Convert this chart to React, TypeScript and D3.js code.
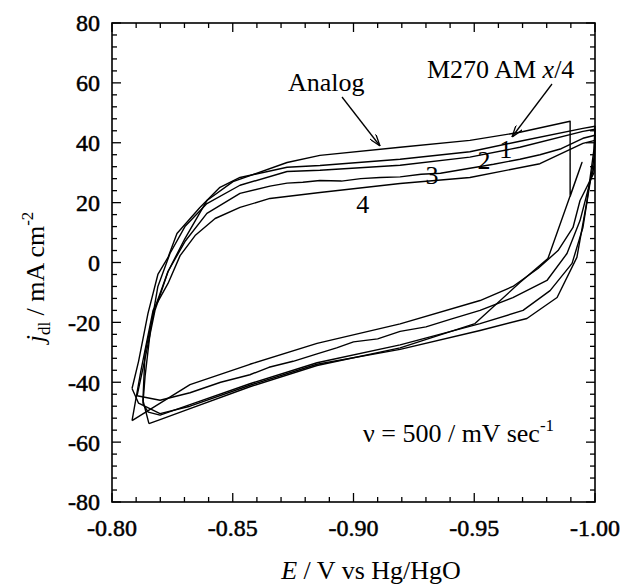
import React from "react";
import * as d3 from "d3";

// ---- Data (E in V vs Hg/HgO, j in mA cm^-2) ----
const analogE = [-0.8153, -0.8128, -0.8137, -0.8178, -0.8232, -0.8302, -0.8393, -0.8501, -0.8725, -0.8861, -0.9193, -0.9482, -0.9689, -0.9897, -0.9897, -0.9946, -0.9805, -0.9689, -0.9503, -0.9193, -0.8849, -0.8571, -0.8323, -0.8199, -0.8153];
const analogJ = [-53.8, -46.0, -30.0, -15.0, -3.0, 8.0, 20.7, 27.0, 33.4, 35.8, 38.5, 40.8, 43.5, 47.2, 22.0, 33.4, 1.3, -6.7, -20.4, -28.5, -34.4, -41.5, -48.8, -52.5, -53.8];

const loop1E = [-0.8083, -0.8110, -0.8149, -0.8190, -0.8232, -0.8269, -0.8364, -0.8447, -0.8530, -0.8725, -0.8861, -0.9193, -0.9482, -0.9689, -0.9950, -1.0000, -0.9996, -0.9967, -0.9925, -0.9843, -0.9718, -0.9524, -0.9193, -0.8849, -0.8571, -0.8323, -0.8199, -0.8110, -0.8083];
const loop1J = [-42.1, -33.0, -17.0, -4.0, 1.7, 9.7, 18.4, 25.1, 28.4, 31.8, 32.4, 34.5, 37.0, 40.5, 44.8, 45.5, 38.0, 20.7, 1.7, -11.7, -18.7, -22.7, -29.0, -34.0, -41.0, -48.0, -50.5, -47.0, -42.1];

const loop2E = [-0.8128, -0.8137, -0.8160, -0.8190, -0.8240, -0.8302, -0.8393, -0.8530, -0.8725, -0.8861, -0.9193, -0.9482, -0.9689, -0.9950, -1.0000, -0.9996, -0.9950, -0.9905, -0.9814, -0.9702, -0.9524, -0.9193, -0.8849, -0.8571, -0.8323, -0.8199, -0.8150, -0.8128];
const loop2J = [-47.2, -38.0, -22.0, -8.0, 3.0, 12.0, 19.7, 25.8, 30.4, 30.8, 32.5, 35.2, 38.5, 43.8, 44.5, 35.0, 11.7, -0.3, -9.4, -16.0, -20.4, -27.5, -33.5, -40.5, -47.5, -51.0, -50.0, -47.2];

const loop3E = [-0.8104, -0.8137, -0.8178, -0.8232, -0.8302, -0.8393, -0.8530, -0.8654, -0.8725, -0.8790, -0.8861, -0.8950, -0.9030, -0.9110, -0.9193, -0.9280, -0.9360, -0.9482, -0.9580, -0.9689, -0.9772, -0.9860, -0.9950, -1.0000, -0.9996, -0.9938, -0.9884, -0.9801, -0.9660, -0.9524, -0.9400, -0.9300, -0.9193, -0.9100, -0.9000, -0.8930, -0.8849, -0.8750, -0.8650, -0.8571, -0.8450, -0.8323, -0.8199, -0.8104];
const loop3J = [-44.5, -32.0, -16.0, -3.0, 7.0, 16.4, 23.1, 25.5, 26.5, 26.8, 27.4, 27.2, 28.0, 28.4, 28.6, 29.5, 29.8, 31.5, 32.8, 34.5, 36.0, 38.0, 41.5, 42.5, 32.0, 14.0, 3.0, -6.0, -11.7, -16.0, -19.0, -21.5, -23.0, -25.5, -26.5, -28.5, -30.5, -33.0, -35.0, -37.5, -40.0, -43.5, -46.0, -44.5];

const loop4E = [-0.8083, -0.8120, -0.8170, -0.8232, -0.8282, -0.8344, -0.8427, -0.8530, -0.8654, -0.8861, -0.9193, -0.9482, -0.9772, -0.9950, -1.0000, -0.9996, -0.9938, -0.9909, -0.9847, -0.9764, -0.9660, -0.9524, -0.9193, -0.8849, -0.8571, -0.8323, -0.8083];
const loop4J = [-52.8, -36.0, -16.0, -7.0, 2.3, 9.0, 14.7, 18.4, 21.4, 23.4, 26.4, 28.4, 33.0, 39.8, 40.8, 30.0, 20.7, 11.7, 4.0, -2.0, -8.0, -12.7, -20.5, -27.0, -34.0, -40.8, -52.8];

const xTickValues = [-0.8, -0.85, -0.9, -0.95, -1.0];
const yTickValues = [-80, -60, -40, -20, 0, 20, 40, 60, 80];

const loops = [
  { e: analogE, j: analogJ },
  { e: loop1E, j: loop1J },
  { e: loop2E, j: loop2J },
  { e: loop3E, j: loop3J },
  { e: loop4E, j: loop4J },
];

const curveLabels = [
  { text: "1", e: -0.9630, j: 35.0 },
  { text: "2", e: -0.9540, j: 31.3 },
  { text: "3", e: -0.9325, j: 26.3 },
  { text: "4", e: -0.9038, j: 16.7 },
];

export default function App() {
  const W = 624, H = 584;
  const x = d3.scaleLinear().domain([-0.8, -1.0]).range([112, 595]);
  const y = d3.scaleLinear().domain([-80, 80]).range([502, 23]);
  const line = d3.line<[number, number]>().x((d) => x(d[0])).y((d) => y(d[1]));
  const font = "'Liberation Serif', 'Times New Roman', serif";

  const xMinor = d3.range(0, 21).map((i) => -0.8 - i * 0.01);
  const yMinor = d3.range(0, 41).map((i) => -80 + i * 4);
  const isMajX = (v: number) => Math.abs(Math.round(v * 100) % 5) === 0;
  const isMajY = (v: number) => Math.round(v) % 20 === 0;

  const x0 = x.range()[0], x1 = x.range()[1], y0 = y.range()[0], y1 = y.range()[1];

  return (
    <svg width={W} height={H} style={{ position: "absolute", left: 0, top: 0, background: "#fff" }} fontFamily={font}>
      <defs>
        <marker id="ah" viewBox="0 0 12 8" refX="12" refY="4" markerWidth="12" markerHeight="8" markerUnits="userSpaceOnUse" orient="auto">
          <path d="M0,0 L12,4 L0,8" fill="none" stroke="#000" strokeWidth={1.3} />
        </marker>
      </defs>
      {/* curves */}
      <g fill="none" stroke="#000" strokeWidth={1.4} strokeLinejoin="round">
        {loops.map((l, i) => (
          <path key={i} d={line(l.e.map((e, k) => [e, l.j[k]] as [number, number])) || ""} />
        ))}
      </g>
      {/* frame */}
      <rect x={x0} y={y1} width={x1 - x0} height={y0 - y1} fill="none" stroke="#000" strokeWidth={1.6} />
      {/* ticks */}
      <g stroke="#000" strokeWidth={1.3}>
        {xMinor.map((v, i) => {
          const len = isMajX(v) ? 9 : 5;
          const px = x(v);
          return (
            <g key={i}>
              <line x1={px} x2={px} y1={y0} y2={y0 - len} />
              <line x1={px} x2={px} y1={y1} y2={y1 + len} />
            </g>
          );
        })}
        {yMinor.map((v, i) => {
          const len = isMajY(v) ? 9 : 5;
          const py = y(v);
          return (
            <g key={i}>
              <line x1={x0} x2={x0 + len} y1={py} y2={py} />
              <line x1={x1} x2={x1 - len} y1={py} y2={py} />
            </g>
          );
        })}
      </g>
      {/* tick labels */}
      <g fontSize={24} fill="#000" stroke="#000" strokeWidth={0.5}>
        {xTickValues.map((v, i) => (
          <text key={i} x={x(v)} y={536} textAnchor="middle">{v.toFixed(2)}</text>
        ))}
        {yTickValues.map((v, i) => (
          <text key={i} x={100} y={y(v)} dy="0.35em" textAnchor="end">{String(v)}</text>
        ))}
      </g>
      {/* axis titles */}
      <text x={371} y={579} textAnchor="middle" fontSize={26}>
        <tspan fontStyle="italic">E</tspan> / V vs  Hg/HgO
      </text>
      <text transform="translate(44,277) rotate(-90)" textAnchor="middle" fontSize={26}>
        <tspan fontStyle="italic">j</tspan>
        <tspan fontSize={17} dy={6}>dl</tspan>
        <tspan dy={-6}> / mA cm</tspan>
        <tspan fontSize={17} dy={-11}>-2</tspan>
      </text>
      {/* annotations */}
      <text x={288} y={91} fontSize={26}>Analog</text>
      <line x1={342} y1={97} x2={380} y2={146} stroke="#000" strokeWidth={1.3} markerEnd="url(#ah)" />
      <text x={427} y={78} fontSize={26}>
        M270 AM <tspan fontStyle="italic">x</tspan>/4
      </text>
      <line x1={552} y1={84} x2={512} y2={137} stroke="#000" strokeWidth={1.3} markerEnd="url(#ah)" />
      {curveLabels.map((c, i) => (
        <text key={i} x={x(c.e)} y={y(c.j)} textAnchor="middle" fontSize={26}>{c.text}</text>
      ))}
      <text x={363} y={442} fontSize={26}>
        ν = 500 / mV sec<tspan fontSize={17} dy={-11}>-1</tspan>
      </text>
    </svg>
  );
}
